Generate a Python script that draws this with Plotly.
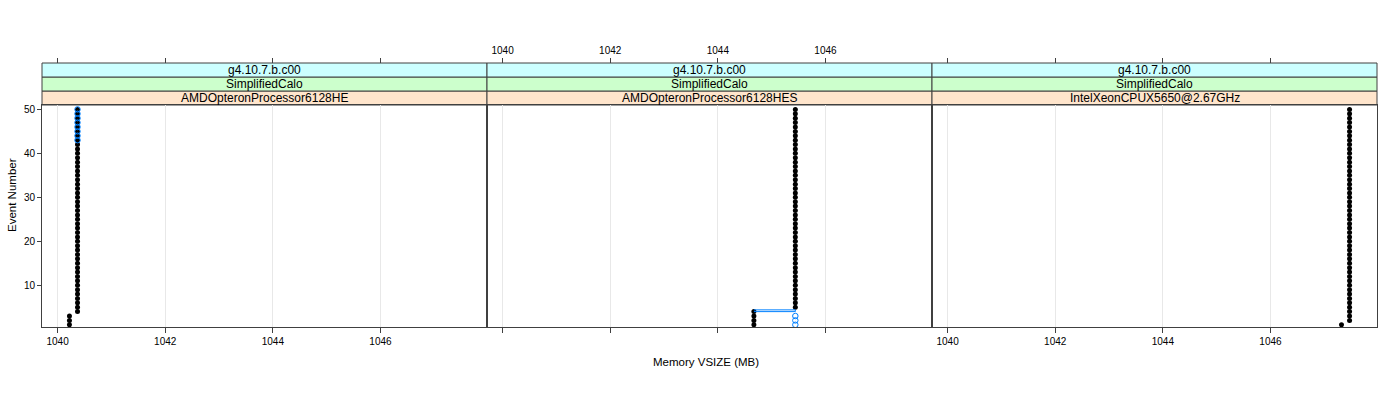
import plotly.graph_objects as go

# ---------------- data ----------------
events = list(range(1, 51))

panel_titles = ["AMDOpteronProcessor6128HE", "AMDOpteronProcessor6128HES", "IntelXeonCPUX5650@2.67GHz"]
strip_mid = "SimplifiedCalo"
strip_top = "g4.10.7.b.c00"

# black filled series (memory VSIZE per event)
p1_black_x = [1040.22] * 3 + [1040.37] * 47
p2_black_x = [1044.67] * 4 + [1045.44] * 46
p3_black_x = [1047.32] * 1 + [1047.47] * 49

# blue open series
p1_blue_events = list(range(43, 51))
p1_blue_x = [1040.37] * 8
p2_blue_events = [1, 2, 3]
p2_blue_x = [1045.44] * 3

# blue connecting line in panel 2
p2_line_x = [1044.67, 1045.44, 1045.44, 1044.67]
p2_line_y = [4.4, 4.4, 4.0, 4.0]

x_range = [1039.71, 1047.98]
y_range = [0.5, 51.0]
x_ticks = [1040, 1042, 1044, 1046]
y_ticks = [10, 20, 30, 40, 50]

# ---------------- figure ----------------
FONT = "Liberation Sans, Arial, sans-serif"
BLACK = "#000000"
BLUE = "#0080ff"
LINE = "#404040"

fig = go.Figure()

black_sets = [p1_black_x, p2_black_x, p3_black_x]
for i, bx in enumerate(black_sets):
    xa = "x" if i == 0 else f"x{i+1}"
    ya = "y" if i == 0 else f"y{i+1}"
    fig.add_trace(go.Scatter(x=bx, y=events, mode="markers", xaxis=xa, yaxis=ya,
                             marker=dict(symbol="circle", size=5, color=BLACK, line=dict(width=0)),
                             showlegend=False, hoverinfo="skip"))

fig.add_trace(go.Scatter(x=p1_blue_x, y=p1_blue_events, mode="markers", xaxis="x", yaxis="y",
                         marker=dict(symbol="circle-open", size=5.5, color=BLUE, line=dict(width=1, color=BLUE)),
                         showlegend=False, hoverinfo="skip"))
fig.add_trace(go.Scatter(x=p2_line_x, y=p2_line_y, mode="lines", xaxis="x2", yaxis="y2",
                         line=dict(color=BLUE, width=1), showlegend=False, hoverinfo="skip"))
fig.add_trace(go.Scatter(x=p2_blue_x, y=p2_blue_events, mode="markers", xaxis="x2", yaxis="y2",
                         marker=dict(symbol="circle-open", size=5.5, color=BLUE, line=dict(width=1, color=BLUE)),
                         showlegend=False, hoverinfo="skip"))

# dummy traces for the top axes
for i in range(3):
    fig.add_trace(go.Scatter(x=[], y=[], xaxis=f"x{i+4}", yaxis="y" if i == 0 else f"y{i+1}",
                             showlegend=False, hoverinfo="skip"))

data_top = (327 - 105) / 264.0
s1 = (327 - 91) / 264.0
s2 = (327 - 77) / 264.0

tickfont = dict(family=FONT, size=10, color="#000000")

layout = dict(
    width=1400, height=400,
    margin=dict(l=42, r=23, t=63, b=73),
    paper_bgcolor="white", plot_bgcolor="white",
    font=dict(family=FONT, size=10, color="#000000"),
    showlegend=False,
)

for i in range(3):
    dom = [i / 3.0, (i + 1) / 3.0]
    xname = "xaxis" if i == 0 else f"xaxis{i+1}"
    yname = "yaxis" if i == 0 else f"yaxis{i+1}"
    layout[xname] = dict(
        domain=dom, anchor="y" if i == 0 else f"y{i+1}", range=x_range,
        tickvals=x_ticks, ticktext=[str(t) for t in x_ticks],
        showticklabels=(i != 1), ticks="outside", ticklen=5, tickcolor=LINE, tickwidth=1,
        showgrid=True, gridcolor="#e8e8e8", gridwidth=1, zeroline=False,
        showline=True, linecolor=LINE, linewidth=1, mirror=True,
        tickfont=tickfont,
    )
    layout[yname] = dict(
        domain=[0, data_top], anchor="x" if i == 0 else f"x{i+1}", range=y_range,
        tickvals=y_ticks, showticklabels=(i == 0), ticks="outside" if i == 0 else "",
        ticklen=4, tickcolor=LINE, showgrid=False, zeroline=False,
        showline=True, linecolor=LINE, linewidth=1, mirror=True,
        tickfont=tickfont,
    )
    # top axis
    layout[f"xaxis{i+4}"] = dict(
        overlaying="x" if i == 0 else f"x{i+1}", side="top", anchor="free", position=1.0,
        range=x_range, tickvals=x_ticks, showticklabels=(i == 1),
        ticks="outside", ticklen=5, tickcolor=LINE, showgrid=False, zeroline=False,
        showline=False, tickfont=tickfont,
    )

fig.update_layout(**layout)

# strips
shapes = []
annotations = []
strip_rows = [
    (data_top, s1, "#ffe5cc", panel_titles),
    (s1, s2, "#ccffcc", [strip_mid] * 3),
    (s2, 1.0, "#ccffff", [strip_top] * 3),
]
for (y0, y1, col, texts) in strip_rows:
    for i in range(3):
        x0, x1 = i / 3.0, (i + 1) / 3.0
        shapes.append(dict(type="rect", xref="paper", yref="paper", x0=x0, x1=x1, y0=y0, y1=y1,
                           fillcolor=col, line=dict(color=LINE, width=1), layer="below"))
        annotations.append(dict(xref="paper", yref="paper", x=(x0 + x1) / 2, y=(y0 + y1) / 2,
                                text=texts[i], showarrow=False, xanchor="center", yanchor="middle",
                                font=dict(family=FONT, size=12, color="#000000")))

annotations.append(dict(xref="paper", yref="paper", x=(706 - 42) / 1335.0, y=-(362 - 327) / 264.0,
                        text="Memory VSIZE (MB)", showarrow=False, xanchor="center", yanchor="middle",
                        font=dict(family=FONT, size=11.5, color="#000000")))
annotations.append(dict(xref="paper", yref="paper", x=-(42 - 12) / 1335.0, y=0.5,
                        text="Event Number", showarrow=False, xanchor="center", yanchor="middle",
                        textangle=-90, font=dict(family=FONT, size=11.5, color="#000000")))

fig.update_layout(shapes=shapes, annotations=annotations)

fig.write_html("out.html")
